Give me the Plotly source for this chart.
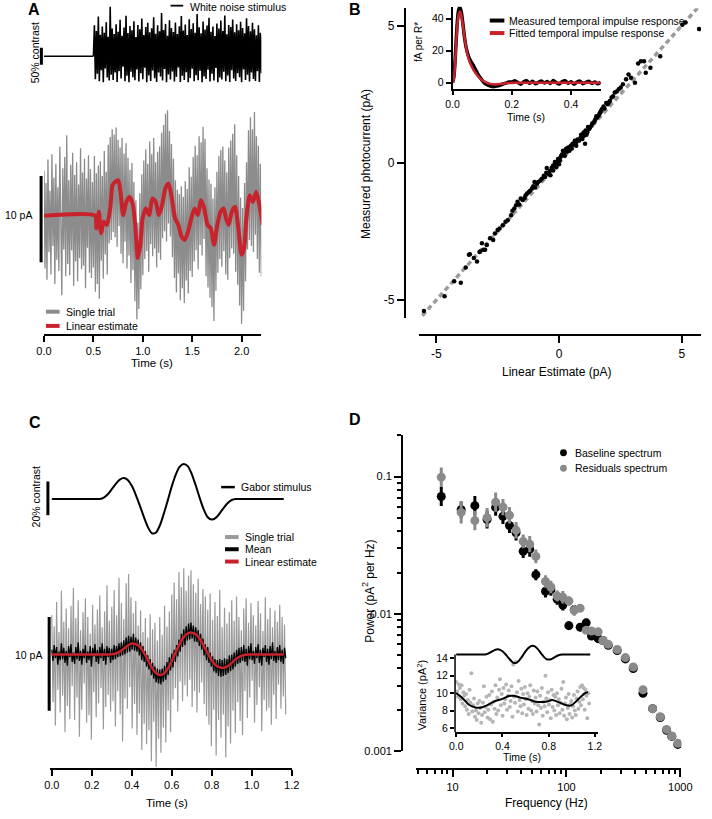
import numpy as np
import plotly.graph_objects as go

W, H = 712, 819
FONT = "Liberation Sans, Arial, Helvetica, sans-serif"
RED = "#c8232c"
GREY_A = "#8c8c8c"
GREY_C = "#9a9a9a"


def px(x):
    return x / W


def py(y):
    return 1 - y / H


# ---------------- Panel A data ----------------
stim_base_t = [0.0, 0.5]
stim_base_v = [0.0, 0.0]
stim_vals = [0, 92, -68, 75, -52, 118, -74, 64, -41, 88,
             -77, 70, -36, 101, -63, 58, -72, 147, -55, 82,
             -70, 66, -48, 95, -76, 73, -44, 108, -66, 61,
             -31, 85, -74, 120, -58, 69, -77, 90, -46, 77,
             -62, 104, -71, 57, -39, 93, -75, 80, -50, 112,
             -68, 63, -34, 87, -77, 99, -57, 71, -73, 83,
             -42, 116, -65, 67, -76, 92, -48, 74, -60, 128,
             -72, 78, -38, 96, -77, 61, -54, 107, -69, 84,
             -45, 72, -75, 100, -61, 66, -33, 89, -76, 119,
             -58, 76, -70, 94, -47, 63, -77, 110, -64, 81,
             -37, 98, -74, 70, -56, 125, -71, 86, -43, 68,
             -77, 103, -60, 79, -67, 91, -40, 114, -75, 73,
             -52, 88, -72, 60, -35, 97, -77, 82, -63, 106,
             -69, 75, -46, 121, -74, 65, -57, 93, -76, 87,
             -41, 109, -66, 71, -73, 95, -50, 77, -62, 102,
             -77, 84, -39, 68, -70, 113, -55, 90, -75, 74,
             -48, 99, -67, 80, -73, 62, -44, 92, -76, 70,
             -50, 64]
stim_t = 0.5 + 0.01 * np.arange(len(stim_vals))

trialA = [5.2, -6.1, 3.8, -7.4, 6.5, -4.2, 2.9, -6.8, 7.1, -3.5,
          4.4, -7.9, 6.0, -5.1, 3.3, -6.4, 8.0, -4.8, -9.2, 5.5,
          -3.9, 6.8, -7.0, 9.3, -5.6, 4.1, -6.9, 5.9, -4.0, 7.3,
          -8.1, 4.7, -5.3, 6.2, -7.6, 3.6, -4.9, 7.8, -6.2, 5.0,
          -5.8, 6.6, -8.4, 4.3, -3.7, 7.0, -6.6, 5.4, -7.2, 3.9,
          -6.0, 6.9, -8.8, 4.9, -7.9, 5.8, -9.6, 6.3, -5.2, 4.6,
          -7.3, 7.5, -4.5, 5.1, -6.8, 8.2, -3.2, 9.1, -2.8, 10.0,
          -1.9, 9.4, -2.5, 10.2, -3.6, 8.8, -1.2, 7.9, -4.4, 9.0,
          -5.5, 7.2, -3.0, 8.4, -6.1, 6.7, -4.6, 5.3, -7.8, 6.1,
          -6.3, 3.9, -9.9, 1.8, -12.0, -0.8, -10.8, 2.6, -8.5, 4.8,
          -6.9, 6.4, -5.0, 7.7, -4.1, 6.0, -6.5, 8.6, -3.3, 7.1,
          -4.7, 9.0, -3.8, 6.2, -6.0, 7.4, -4.3, 8.0, -5.1, 9.6,
          -2.6, 10.5, -1.8, 11.8, -3.0, 12.2, -0.9, 9.8, -2.4, 8.3,
          -4.8, 6.6, -7.2, 4.1, -8.9, 3.0, -6.7, 2.5, -9.8, 3.4,
          -8.4, 2.2, -10.1, 4.0, -7.5, 3.1, -9.0, 5.6, -6.4, 4.5,
          -7.1, 6.8, -5.3, 8.1, -4.0, 7.0, -6.2, 9.2, -3.4, 8.5,
          -4.6, 10.3, -2.7, 8.9, -7.0, 5.5, -8.3, 4.2, -9.5, 3.7,
          -10.6, 2.0, -12.2, 3.3, -8.7, 5.1, -6.6, 6.9, -5.0, 7.6,
          -5.9, 8.0, -4.1, 6.4, -6.8, 5.0, -7.4, 7.9, -4.9, 8.7,
          -3.8, 9.5, -4.4, 10.6, -6.5, 7.0, -8.0, 4.6, -10.4, 2.1,
          -12.5, 0.9, -11.0, 3.8, -7.6, 6.2, -3.9, 9.9, -2.8, 11.4,
          -3.5, 10.0, -4.2, 12.0, -2.2, 9.2, -5.0, 8.1, -6.6, 6.0,
          -7.0]
trialA_t = 0.01 * np.arange(len(trialA))

linA_t = [0, 0.516, 0.529, 0.555, 0.578, 0.604, 0.637, 0.670, 0.693, 0.719,
          0.752, 0.778, 0.801, 0.834, 0.867, 0.900, 0.923, 0.949, 0.975, 0.998,
          1.031, 1.064, 1.097, 1.130, 1.163, 1.195, 1.228, 1.261, 1.294, 1.327,
          1.360, 1.392, 1.425, 1.458, 1.491, 1.524, 1.557, 1.589, 1.622, 1.655,
          1.688, 1.721, 1.754, 1.787, 1.819, 1.842, 1.869, 1.901, 1.934, 1.967,
          2.000, 2.026, 2.049, 2.082, 2.115, 2.148, 2.181, 2.213]
linA_v = [0, 0, -1.46, 0.46, -2.03, -0.69, -1.07, 0.84, 3.52, 3.91,
          4.10, 2.38, 0.08, 1.61, 2.18, 1.23, -1.07, -4.90, -3.37, -0.31,
          0.84, 0.08, 1.99, 1.61, 0.08, 1.23, 3.14, 3.72, 1.99, -0.31,
          -1.07, -2.41, -2.80, -1.84, -0.31, 0.84, 0.08, 1.80, 0.84, -1.07,
          -1.46, -3.37, -1.07, 0.46, 0.84, -0.31, -1.07, 0.46, 1.03, -1.46,
          -4.52, -3.75, -0.31, 2.38, 1.61, 2.76, 1.23, -1.07]

# ---------------- Panel B data ----------------
identity_x = [-5.8, 5.9]
identity_y = [-5.8, 5.9]
scatB_x = [5.70, 5.02, 5.15, 4.12, 3.33, 3.46, 3.22, 3.72, 3.53, 2.83,
           2.93, 2.73, 3.09, 2.60, 2.43, 2.51, 2.27, 2.14, 2.07, 1.98,
           1.81, 1.74, 1.68, 1.61, 1.55, 1.48, 1.41, 1.32, 1.22, 1.15,
           1.02, 0.95, 0.82, 0.69, 0.55, 1.06, 0.42, 0.29, 0.16, 0.09,
           0.23, -0.04, -0.17, -0.24, -0.50, 0.42, 0.03, -0.11, -0.24, -0.44,
           -0.57, -0.76, -0.90, -1.10, -1.23, -1.36, -1.56, -1.69, -1.82, -1.95,
           -2.09, -2.29, -2.42, -2.61, -2.68, -2.81, -2.94, -3.14, -3.21, -3.01,
           -3.47, -3.67, -3.34, -3.80, -4.27, -4.00, -4.66, -5.50, -3.63, -3.24,
           -3.08, -1.90, -1.75, -1.62, -1.48, -1.40, -1.30, -1.18, -1.05, -0.98,
           -0.85, -0.70, -0.62, -0.52, -0.38, -0.30, -0.15, -0.06, 0.05, 0.12,
           0.20, 0.33, 0.36, 0.48, 0.60, 0.64, 0.75, 0.88, 0.90, 1.00,
           1.08, 1.18, 1.26, 1.36, 1.45, 1.52, 1.64, 1.70, 1.85, 1.92,
           2.02, 2.20, 2.35, -2.18, -2.50, -1.00, 0.70, 1.12, -0.35, 0.00,
           0.52]
scatB_y = [4.87, 5.03, 5.11, 3.88, 3.70, 3.70, 3.62, 3.46, 3.28, 3.22,
           3.10, 3.04, 2.92, 2.86, 2.68, 2.74, 2.56, 2.38, 2.25, 2.13,
           2.05, 1.95, 1.83, 1.71, 1.65, 1.59, 1.47, 1.35, 1.23, 1.11,
           0.99, 0.87, 0.81, 0.75, 0.69, 0.69, 0.57, 0.51, 0.44, 0.26,
           0.26, 0.14, 0.03, -0.10, -0.19, 0.44, 0.08, -0.16, -0.28, -0.40,
           -0.52, -0.64, -0.76, -0.94, -1.06, -1.18, -1.30, -1.42, -1.66, -1.91,
           -2.09, -2.27, -2.39, -2.57, -2.81, -2.75, -2.99, -2.93, -3.23, -3.17,
           -3.47, -3.35, -3.59, -3.81, -4.31, -4.37, -4.86, -5.40, -3.33, -3.25,
           -3.17, -1.75, -1.55, -1.52, -1.35, -1.28, -1.12, -1.02, -0.85, -0.90,
           -0.70, -0.58, -0.47, -0.36, -0.30, -0.18, -0.02, 0.05, 0.18, 0.30,
           0.36, 0.40, 0.55, 0.62, 0.66, 0.80, 0.85, 0.92, 1.02, 1.10,
           1.18, 1.30, 1.28, 1.44, 1.52, 1.70, 1.78, 1.88, 1.98, 2.18,
           2.20, 2.42, 2.60, -2.15, -2.45, -0.70, 0.62, 1.02, -0.45, -0.05,
           0.52]

irf_t = list(np.round(np.arange(0, 0.1001, 0.005), 3)) + list(np.round(np.arange(0.11, 0.5001, 0.01), 2))
irf_measured = [0, 4, 18, 35, 45, 47.5, 44, 37, 29, 23, 19, 16, 14, 12.5, 11, 9, 7.5, 5.5, 4, 2.8, 1.5,
                -0.5, -1.5, -2.2, -2.5, -2.0, -1.6, -0.8, -0.3, 0.5,
                0.4, 1.2, 0.2, -0.9, 0.6, 1.3, -0.4, 0.9, -0.7, 0.3, 1.1, -0.2, 0.8, -0.5, 1.4, 0.1,
                -0.8, 0.7, 1.2, -0.3, 0.6, -0.9, 0.4, 1.0, -0.6, 0.2, 0.9, -0.4, 0.5, -0.7, 0.3]
irf_fitted = [0, 3, 16, 33, 42, 44.5, 42, 36, 29, 23, 18, 14.5, 12, 10, 8.2, 6.8, 5.5, 4.3, 3.2, 2.3, 1.6,
              0.5, -0.3, -0.8, -1.0, -1.0, -0.8, -0.6, -0.4, -0.2,
              -0.1, 0.0, 0.0, 0.0, 0.0, 0.0, 0.0, 0.0, 0.0, 0.0, 0.0, 0.0, 0.0, 0.0, 0.0, 0.0,
              0.0, 0.0, 0.0, 0.0, 0.0, 0.0, 0.0, 0.0, 0.0, 0.0, 0.0, 0.0, 0.0, 0.0, 0.0]

# ---------------- Panel C data ----------------
gabor_vals = [0, 0, 0, 0, 0, 0, 0, 0, 0, 0, 0, 0, 0,
              0.8, 2.8, 5.8, 9.0, 11.5, 12.4, 11.2, 7.8, 2.5, -3.8,
              -10.5, -16.5, -20.2, -20.0, -15.8, -8.8, -0.8, 7.5, 14.5, 19.2,
              20.8, 19.5, 14.8, 8.0, 0.5, -6.2, -10.8, -12.2, -11.2, -8.5,
              -5.2, -2.4, -0.6,
              0, 0, 0, 0, 0, 0, 0, 0, 0, 0, 0, 0, 0]
gabor_t = 0.02 * np.arange(len(gabor_vals))

linC_vals = [0, 0, 0, 0, 0, 0, 0, 0, 0, 0, 0, 0, 0, 0, 0,
             0.02, 0.1, 0.3, 0.6, 0.95, 1.17, 1.1, 0.8, 0.2, -0.55,
             -1.4, -1.95, -2.2, -2.05, -1.5, -0.7, 0.25, 1.15, 1.85, 2.25,
             2.33, 2.15, 1.65, 0.9, 0.1, -0.65, -1.15, -1.38, -1.42, -1.25,
             -0.9, -0.5, -0.22, -0.06,
             0, 0, 0, 0, 0, 0, 0, 0, 0, 0]
linC_t = 0.02 * np.arange(len(linC_vals))

trialC = [4.2, -5.1, 3.0, -7.6, 5.6, -3.8, 2.4, -6.2, 6.8, -4.4,
          3.5, -8.3, 4.9, -5.5, 2.8, -6.9, 5.2, -3.4, 7.1, -7.0,
          3.9, -4.6, 5.8, -8.8, 2.6, -5.9, 4.5, -3.1, 6.0, -7.3,
          4.0, -6.5, 2.2, -9.1, 5.3, -4.0, 3.2, -6.7, 4.8, -5.2,
          6.3, -3.6, 2.9, -8.0, 4.6, -5.6, 7.4, -4.3, 3.6, -6.1,
          5.1, -5.0, 6.9, -7.7, 4.2, -3.9, 8.2, -6.4, 5.5, -9.3,
          3.8, -4.7, 7.6, -5.8, 8.6, -3.5, 6.1, -7.9, 4.4, -5.3,
          5.7, -8.6, 3.1, -6.3, 4.7, -10.2, 2.4, -7.4, 3.9, -9.6,
          1.8, -8.1, 4.3, -11.4, 2.7, -7.2, 3.4, -12.0, 1.5, -9.0,
          4.0, -10.5, 2.1, -7.8, 5.2, -9.4, 3.0, -6.0, 4.6, -8.3,
          6.4, -4.8, 7.7, -3.6, 5.9, -6.1, 8.8, -2.9, 7.2, -5.0,
          9.2, -3.3, 6.8, -4.5, 8.4, -2.7, 9.0, -5.6, 7.5, -3.9,
          6.6, -6.2, 8.1, -4.1, 5.4, -3.0, 7.0, -5.3, 6.2, -6.6,
          4.8, -7.5, 6.5, -9.8, 3.7, -5.9, 5.6, -10.8, 4.1, -7.0,
          6.9, -8.9, 2.9, -6.4, 5.0, -11.0, 3.3, -7.7, 4.5, -9.5,
          5.8, -6.0, 3.6, -8.4, 6.2, -5.1, 4.0, -7.1, 2.6, -8.6,
          4.9, -3.9, 6.0, -6.8, 3.4, -4.6, 5.5, -2.8, 4.2, -7.3,
          3.1, -5.4, 5.7, -3.5, 4.4, -8.2, 2.5, -4.9, 6.1, -6.0,
          3.8, -5.7, 5.0, -7.5, 2.9, -4.3, 4.7, -6.9, 3.5, -3.2,
          5.3, -5.8, 4.0, -4.5, 3.2, -6.4]
trialC_t = 0.006 * np.arange(len(trialC))

meanC = [0.5, -0.7, 1.0, -0.4, 0.8, -1.1, 0.3, -0.6, 1.2, -0.5,
         0.7, -0.9, 0.4, -1.2, 0.9, -0.3, 1.1, -0.8, 0.2, -1.0,
         0.8, -0.5, 1.3, -0.7, 0.4, -1.1, 0.6, -0.4, 1.0, -0.9,
         0.3, -0.6, 0.9, -1.3, 0.7, -0.2, 1.1, -0.8, 0.5, -1.0,
         0.8, -0.4, 1.2, -0.7, 0.6, -1.1, 0.9, -0.3, 0.7, -0.9,
         0.6, -0.6, 1.0, -0.5, 0.9, -0.3, 1.2, -0.2, 1.3, -0.1,
         1.5, 0.0, 1.8, 0.2, 2.0, 0.3, 1.9, 0.5, 2.2, 0.4,
         1.8, 0.3, 1.6, -0.1, 1.3, -0.6, 0.9, -0.8, 0.4, -1.3,
         -0.1, -1.6, -0.5, -2.2, -0.9, -2.6, -1.3, -3.0, -1.5, -3.1,
         -1.6, -3.2, -1.5, -2.9, -1.2, -2.7, -0.8, -2.2, -0.3, -1.7,
         0.1, -1.4, 0.5, -0.8, 1.0, -0.2, 1.6, 0.3, 2.2, 0.8,
         2.7, 1.0, 3.0, 1.5, 3.3, 1.6, 3.4, 1.7, 3.1, 1.4,
         2.9, 1.3, 2.6, 0.9, 2.2, 0.5, 1.7, -0.1, 1.1, -0.6,
         0.8, -0.9, 0.2, -1.3, -0.2, -1.8, -0.5, -2.0, -0.6, -2.3,
         -0.5, -2.4, -0.6, -2.3, -0.4, -2.2, -0.5, -2.0, -0.1, -1.8,
         0.0, -1.6, 0.2, -1.3, 0.5, -1.0, 0.7, -0.9, 0.8, -0.7,
         1.0, -0.8, 0.6, -1.2, 0.9, -0.5, 1.2, -0.6, 0.4, -1.0,
         0.8, -0.4, 1.1, -0.9, 0.5, -1.2, 0.7, -0.3, 1.0, -0.8,
         0.6, -1.1, 0.9, -0.5, 1.3, -0.7, 0.4, -0.9, 0.8, -0.6,
         1.0, -0.8, 0.5, -1.0, 0.7, -0.4]
meanC_t = 0.006 * np.arange(len(meanC))

# ---------------- Panel D data ----------------
freq_hz = [7.96, 11.9, 15.7, 20.1, 23.9, 27.7, 31.6, 36.1, 41.7, 47.6,
           53.9, 65.5, 73.0, 82.9, 93.0, 105, 117, 132, 149, 166,
           190, 209, 233, 279, 329, 386, 470, 571, 667, 757, 842, 950]
baseline_power = [0.0716, 0.0574, 0.0614, 0.0486, 0.0596, 0.0513, 0.0440, 0.0389, 0.0286, 0.0296,
                  0.0193, 0.0146, 0.0150, 0.0128, 0.0116, 0.0082, 0.0107, 0.0080, 0.0086, 0.0069,
                  0.0066, 0.0064, 0.0059, 0.0054, 0.0047, 0.0040, 0.00264, 0.00204, 0.00176, 0.00142,
                  0.00128, 0.00112]
residual_power = [0.0990, 0.0548, 0.0478, 0.0502, 0.0651, 0.0599, 0.0523, 0.0407, 0.0337, 0.0322,
                  0.0262, 0.0172, 0.0157, 0.0135, 0.0132, 0.0124, 0.0106, 0.0110, 0.0076, 0.0075,
                  0.0074, 0.0064, 0.0060, 0.0055, 0.0048, 0.0041, 0.0028, 0.00204, 0.00178, 0.00144,
                  0.00129, 0.00114]
baseline_err_dec = [0.07, 0.06, 0.07, 0.065, 0.06, 0.055, 0.055, 0.055, 0.05, 0.055,
                    0.04, 0.045, 0.045, 0.04, 0.04, 0.03, 0.035, 0.03, 0.03, 0.02,
                    0.02, 0.02, 0.015, 0.015, 0.015, 0.012, 0.01, 0.01, 0.01, 0.01, 0.01, 0.01]
residual_err_dec = [0.07, 0.08, 0.07, 0.07, 0.07, 0.06, 0.06, 0.06, 0.05, 0.06,
                    0.05, 0.045, 0.045, 0.04, 0.045, 0.035, 0.04, 0.03, 0.02, 0.02,
                    0.02, 0.02, 0.015, 0.015, 0.015, 0.012, 0.01, 0.01, 0.01, 0.01, 0.01, 0.01]

variance_dots = [11.3, 10.2, 9.6, 11.0, 10.6, 9.3, 10.9, 8.8, 10.1, 9.7,
                 8.5, 9.9, 8.1, 9.2, 7.6, 10.4, 8.9, 12.3, 7.9, 8.6,
                 9.4, 7.3, 8.0, 6.9, 8.8, 7.7, 9.1, 8.3, 6.6, 7.5,
                 8.9, 10.8, 7.8, 8.4, 9.6, 7.2, 8.1, 9.8, 7.0, 8.7,
                 10.2, 6.7, 9.0, 8.2, 10.9, 7.6, 9.5, 8.0, 10.4, 11.6,
                 8.6, 9.9, 7.4, 10.6, 8.8, 9.3, 11.0, 8.1, 9.7, 10.3,
                 8.4, 9.1, 10.8, 7.3, 13.3, 9.6, 8.9, 13.6, 10.1, 7.9,
                 11.4, 9.2, 8.5, 10.5, 7.7, 9.9, 8.7, 10.7, 9.3, 7.5,
                 10.0, 8.2, 9.6, 10.9, 8.0, 9.1, 7.6, 10.3, 8.8, 9.5,
                 7.9, 10.2, 8.6, 6.4, 9.7, 8.3, 10.6, 7.4, 9.0, 8.5,
                 12.0, 9.4, 7.8, 10.1, 8.7, 9.2, 7.1, 10.4, 8.4, 9.8,
                 8.0, 9.6, 7.5, 10.0, 8.6, 9.3, 7.7, 8.9, 10.5, 8.1,
                 11.3, 7.4, 8.8, 9.5, 7.0, 8.3, 9.9, 7.6, 8.7, 9.1,
                 7.2, 8.5, 9.8, 8.0, 7.5, 9.4, 10.2, 8.2, 9.0, 10.7,
                 8.6, 10.9, 9.3, 10.6, 8.1, 10.4, 9.7, 7.1, 10.0, 8.8]
variance_dots_t = np.linspace(0, 1.15, len(variance_dots))
variance_curve_t = [0, 0.055, 0.11, 0.166, 0.216, 0.276, 0.33, 0.40, 0.456, 0.498, 0.553,
                    0.622, 0.678, 0.733, 0.788, 0.83, 0.885, 0.954, 0.996, 1.037, 1.079, 1.12, 1.14]
variance_curve_v = [10.0, 9.43, 8.67, 8.36, 8.36, 8.67, 9.05, 9.34, 9.68, 9.7, 9.49,
                    9.3, 9.05, 8.97, 9.05, 9.2, 8.97, 8.6, 8.6, 9.05, 9.6, 10.05, 10.1]
inset_gabor_offset = 14.45
inset_gabor_scale = 0.048

fig = go.Figure()

# ---- A ----
fig.add_trace(go.Scatter(x=stim_base_t, y=stim_base_v, xaxis="x", yaxis="y2", mode="lines",
                         line=dict(color="black", width=1.5)))
fig.add_trace(go.Scatter(x=stim_t, y=stim_vals, xaxis="x", yaxis="y2", mode="lines",
                         line=dict(color="black", width=1.6)))
fig.add_trace(go.Scatter(x=trialA_t, y=trialA, xaxis="x", yaxis="y", mode="lines",
                         line=dict(color=GREY_A, width=1.3)))
fig.add_trace(go.Scatter(x=linA_t, y=linA_v, xaxis="x", yaxis="y", mode="lines",
                         line=dict(color=RED, width=4, shape="spline", smoothing=0.6)))

# ---- B ----
fig.add_trace(go.Scatter(x=identity_x, y=identity_y, xaxis="x3", yaxis="y3", mode="lines",
                         line=dict(color="#9b9b9b", width=3.5, dash="5px,3.5px")))
fig.add_trace(go.Scatter(x=scatB_x, y=scatB_y, xaxis="x3", yaxis="y3", mode="markers",
                         marker=dict(color="black", size=4.5)))
fig.add_trace(go.Scatter(x=irf_t, y=irf_measured, xaxis="x4", yaxis="y4", mode="lines",
                         line=dict(color="black", width=3.5, shape="spline", smoothing=0.5)))
fig.add_trace(go.Scatter(x=irf_t, y=irf_fitted, xaxis="x4", yaxis="y4", mode="lines",
                         line=dict(color=RED, width=2.5, shape="spline", smoothing=0.5)))

# ---- C ----
fig.add_trace(go.Scatter(x=gabor_t, y=gabor_vals, xaxis="x5", yaxis="y6", mode="lines",
                         line=dict(color="black", width=2, shape="spline", smoothing=0.8)))
fig.add_trace(go.Scatter(x=trialC_t, y=trialC, xaxis="x5", yaxis="y5", mode="lines",
                         line=dict(color=GREY_C, width=1.2)))
fig.add_trace(go.Scatter(x=meanC_t, y=meanC, xaxis="x5", yaxis="y5", mode="lines",
                         line=dict(color="black", width=1.3)))
fig.add_trace(go.Scatter(x=linC_t, y=linC_vals, xaxis="x5", yaxis="y5", mode="lines",
                         line=dict(color=RED, width=2.5, shape="spline", smoothing=0.8)))

# ---- D ----
def err_plus(vals, dec):
    return [v * (10 ** d - 1) for v, d in zip(vals, dec)]


def err_minus(vals, dec):
    return [v * (1 - 10 ** (-d)) for v, d in zip(vals, dec)]


fig.add_trace(go.Scatter(x=freq_hz, y=baseline_power, xaxis="x7", yaxis="y7", mode="markers",
                         marker=dict(color="black", size=9),
                         error_y=dict(type="data", symmetric=False,
                                      array=err_plus(baseline_power, baseline_err_dec),
                                      arrayminus=err_minus(baseline_power, baseline_err_dec),
                                      thickness=3, width=0, color="black")))
fig.add_trace(go.Scatter(x=freq_hz, y=residual_power, xaxis="x7", yaxis="y7", mode="markers",
                         marker=dict(color="#8a8a8a", size=9),
                         error_y=dict(type="data", symmetric=False,
                                      array=err_plus(residual_power, residual_err_dec),
                                      arrayminus=err_minus(residual_power, residual_err_dec),
                                      thickness=3, width=0, color="#8a8a8a")))
fig.add_trace(go.Scatter(x=variance_dots_t, y=variance_dots, xaxis="x8", yaxis="y8", mode="markers",
                         marker=dict(color="#b5b5b5", size=4)))
fig.add_trace(go.Scatter(x=variance_curve_t, y=variance_curve_v, xaxis="x8", yaxis="y8", mode="lines",
                         line=dict(color="black", width=2, shape="spline", smoothing=0.8)))
fig.add_trace(go.Scatter(x=gabor_t, y=[inset_gabor_offset + inset_gabor_scale * g for g in gabor_vals],
                         xaxis="x8", yaxis="y8", mode="lines",
                         line=dict(color="black", width=2, shape="spline", smoothing=0.8)))

# ---------------- axes ----------------
def axis_common(size=11, lw=2, tl=6):
    return dict(showgrid=False, zeroline=False, showline=True, linecolor="black", linewidth=lw,
                ticks="outside", ticklen=tl, tickwidth=lw, tickcolor="black",
                tickfont=dict(family=FONT, size=size, color="black"))


hidden = dict(visible=False, showgrid=False, zeroline=False)

layout = dict(
    width=W, height=H, margin=dict(l=0, r=0, t=0, b=0),
    paper_bgcolor="white", plot_bgcolor="rgba(0,0,0,0)", showlegend=False,
    font=dict(family=FONT, size=11, color="black"),
)
layout["xaxis"] = dict(domain=[px(37), px(260.3)], range=[0, 2.2], anchor="y",
                       tickvals=[0, 0.5, 1.0, 1.5, 2.0], ticktext=["0.0", "0.5", "1.0", "1.5", "2.0"],
                       **axis_common(11, 2, 6))
layout["yaxis"] = dict(domain=[py(336), py(110)], range=[-13.64, 12.33], anchor="x", **hidden)
layout["yaxis2"] = dict(domain=[py(100), py(0)], range=[-127.4, 166.8], anchor="x", **hidden)

layout["xaxis3"] = dict(domain=[px(422.7), 1.0], range=[-5.685, 5.78], anchor="free", position=py(337.7),
                        tickvals=[-5, 0, 5], ticktext=["-5", "0", "5"], **axis_common(12, 2.2, 7))
layout["yaxis3"] = dict(domain=[py(320.7), py(8.3)], range=[-5.665, 5.63], anchor="free", position=px(407.7),
                        tickvals=[-5, 0, 5], ticktext=["-5", "0", "5"], **axis_common(12, 2.2, 7))
layout["xaxis4"] = dict(domain=[px(456.7), px(609)], range=[0, 0.5], anchor="y4",
                        tickvals=[0, 0.2, 0.4], ticktext=["0.0", "0.2", "0.4"], **axis_common(10.5, 1.5, 5))
layout["yaxis4"] = dict(domain=[py(89.3), py(6.7)], range=[-3.7, 47.6], anchor="x4",
                        tickvals=[0, 20, 40], **axis_common(10.5, 1.5, 5))

layout["xaxis5"] = dict(domain=[px(43.3), px(291.5)], range=[-0.0083, 1.2], anchor="y5",
                        tickvals=[0, 0.2, 0.4, 0.6, 0.8, 1.0, 1.2],
                        ticktext=["0.0", "0.2", "0.4", "0.6", "0.8", "1.0", "1.2"], **axis_common(11, 2, 6))
layout["yaxis5"] = dict(domain=[py(773.3), py(570)], range=[-12.09, 9.47], anchor="x5", **hidden)
layout["yaxis6"] = dict(domain=[py(545), py(455)], range=[-24.9, 28.06], anchor="x5", **hidden)

layout["xaxis7"] = dict(type="log", domain=[px(419.3), px(691.7)], range=[0.68, 3.008], anchor="free",
                        position=py(775), tickvals=[10, 100, 1000], ticktext=["10", "100", "1000"],
                        minor=dict(tickvals=[5, 6, 7, 8, 9, 20, 30, 40, 50, 60, 70, 80, 90,
                                             200, 300, 400, 500, 600, 700, 800, 900],
                                   ticks="outside", ticklen=4, tickwidth=1.5, tickcolor="black"),
                        **axis_common(11, 2.2, 7))
layout["yaxis7"] = dict(type="log", domain=[py(756.7), py(438.3)], range=[-3, -0.698], anchor="free",
                        position=px(405), tickvals=[0.001, 0.01, 0.1], ticktext=["0.001", "0.01", "0.1"],
                        minor=dict(tickvals=[0.002, 0.003, 0.004, 0.005, 0.006, 0.007, 0.008, 0.009,
                                             0.02, 0.03, 0.04, 0.05, 0.06, 0.07, 0.08, 0.09, 0.2],
                                   ticks="outside", ticklen=4, tickwidth=1.5, tickcolor="black"),
                        **axis_common(11, 2.2, 7))
layout["xaxis8"] = dict(domain=[px(459.3), px(606)], range=[-0.0101, 1.2253], anchor="y8",
                        tickvals=[0, 0.4, 0.8, 1.2], ticktext=["0.0", "0.4", "0.8", "1.2"],
                        **axis_common(10.5, 1.5, 3))
ax8 = axis_common(10.5, 1.5, 4)
ax8["showline"] = False
layout["yaxis8"] = dict(domain=[py(737.7), py(645)], range=[5.497, 16.09], anchor="x8",
                        tickvals=[6, 8, 10, 12, 14], **ax8)

fig.update_layout(**layout)

# ---------------- shapes ----------------
shapes = []


def vbar(x, yref, y0, y1, w=3):
    shapes.append(dict(type="line", xref="paper", yref=yref, x0=px(x), x1=px(x), y0=y0, y1=y1,
                       line=dict(color="black", width=w)))


def hsample(x0, x1, y, color, w):
    shapes.append(dict(type="line", xref="paper", yref="paper", x0=px(x0), x1=px(x1), y0=py(y), y1=py(y),
                       line=dict(color=color, width=w)))


vbar(34.3, "y2", -25, 25)
vbar(34, "y", -5.4, 4.6)
vbar(41, "y6", -9.6, 10.4)
vbar(42.3, "y5", -6.0, 3.99)
vbar(459.3, "y8", 5.497, 14.45, 1.5)

hsample(167, 180, 5.7, "black", 1.8)
hsample(39, 53, 314, GREY_A, 4)
hsample(39, 53, 328.3, RED, 4)
hsample(495, 510, 20.7, "black", 4)
hsample(495, 510, 33.3, RED, 4)
hsample(219, 233, 490.7, "black", 2.5)
hsample(223, 237, 541, GREY_C, 4)
hsample(223, 237, 553.3, "black", 4)
hsample(223, 237, 565.7, RED, 4)

for cy, col in [(456, "black"), (471.7, "#8a8a8a")]:
    shapes.append(dict(type="circle", xref="paper", yref="paper",
                       x0=px(567.2), x1=px(574.2), y0=py(cy + 3.5), y1=py(cy - 3.5),
                       fillcolor=col, line=dict(color=col, width=0)))

fig.update_layout(shapes=shapes)

# ---------------- annotations ----------------
anns = []


def text(t, x, y, size=10.5, xanchor="center", angle=0, bold=False):
    anns.append(dict(text=("<b>%s</b>" % t) if bold else t, x=px(x), y=py(y), xref="paper", yref="paper",
                     xanchor=xanchor, yanchor="middle", showarrow=False, textangle=angle,
                     font=dict(family=FONT, size=size, color="black")))


text("A", 26.5, 9.5, 16, bold=True)
text("B", 357, 9.5, 16, bold=True)
text("C", 27.5, 426, 16, bold=True)
text("D", 357, 423, 16, bold=True)

text("50% contrast", 28, 53.5, 10.5, angle=-90)
text("White noise stimulus", 185, 7, 10.5, xanchor="left")
text("10 pA", 27, 217, 10.5, xanchor="right")
text("Single trial", 58, 314, 10.5, xanchor="left")
text("Linear estimate", 58, 328.3, 10.5, xanchor="left")
text("Time (s)", 148, 366, 11.5)

text("Measured temporal impulse response", 513, 20.7, 10.5, xanchor="left")
text("Fitted temporal impulse response", 513, 33.3, 10.5, xanchor="left")
text("fA per R*", 421, 42.5, 10, angle=-90)
text("Time (s)", 531.7, 118, 10.5)
text("Linear Estimate (pA)", 563.3, 375, 12)
text("Measured photocurrent (pA)", 368, 165, 12, angle=-90)

text("20% contrast", 28.3, 500.5, 10.5, angle=-90)
text("Gabor stimulus", 237.3, 490.7, 10.5, xanchor="left")
text("Single trial", 241.7, 541, 10.5, xanchor="left")
text("Mean", 241.7, 553.3, 10.5, xanchor="left")
text("Linear estimate", 241.7, 565.7, 10.5, xanchor="left")
text("10 pA", 36.7, 660, 10.5, xanchor="right")
text("Time (s)", 163.3, 809, 11.5)

text("Baseline spectrum", 580.7, 456, 10.5, xanchor="left")
text("Residuals spectrum", 580.7, 471.7, 10.5, xanchor="left")
text("Frequency (Hz)", 553.3, 809, 12)
text("Power (pA<sup>2</sup> per Hz)", 370, 596, 12, angle=-90)
text("Variance (pA<sup>2</sup>)", 425, 700, 11, angle=-90)
text("Time (s)", 528, 763, 10.5)

fig.update_layout(annotations=anns)

fig.write_html("out.html", config={"displayModeBar": False},
               post_script="document.body.style.margin='0px';document.body.style.padding='0px';")
